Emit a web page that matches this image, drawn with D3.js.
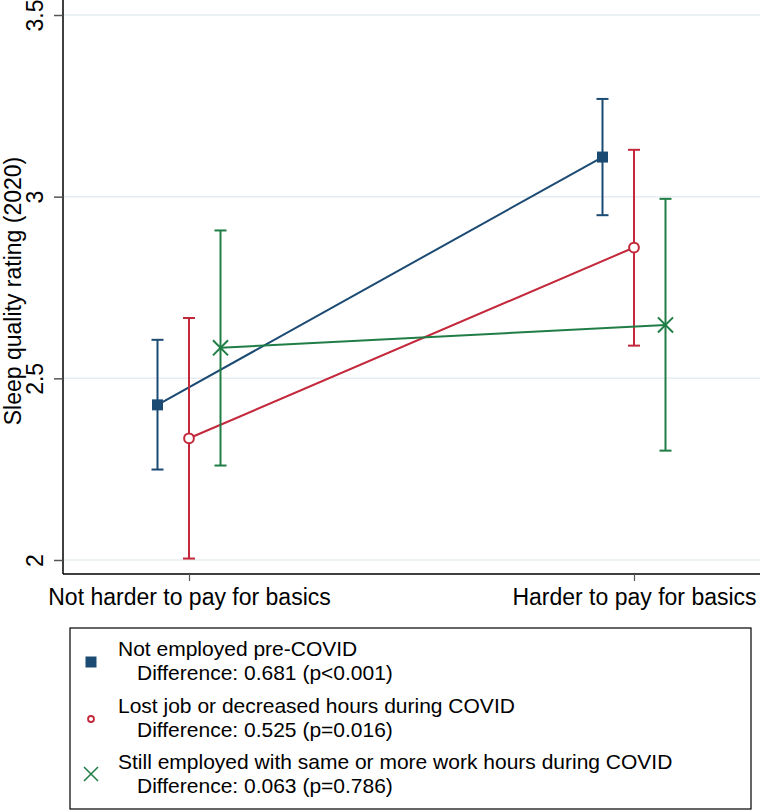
<!DOCTYPE html>
<html>
<head>
<meta charset="utf-8">
<script src="https://cdn.jsdelivr.net/npm/d3@7"></script>
<style>
  body { margin: 0; background: #fff; }
  svg { display: block; font-family: "Liberation Sans", Arial, sans-serif; }
</style>
</head>
<body>
<svg id="chart" width="760" height="811"></svg>
<script>
const categories = ['Not harder to pay for basics', 'Harder to pay for basics'];
const seriesNames = [
  'Not employed pre-COVID',
  'Lost job or decreased hours during COVID',
  'Still employed with same or more work hours during COVID'
];
const differences = [
  'Difference: 0.681 (p<0.001)',
  'Difference: 0.525 (p=0.016)',
  'Difference: 0.063 (p=0.786)'
];
// mean, lower CI, upper CI per category
const notEmployed = [[2.427, 2.249, 2.606], [3.109, 2.949, 3.269]];
const lostJob = [[2.335, 2.004, 2.666], [2.860, 2.590, 3.129]];
const stillEmployed = [[2.584, 2.260, 2.907], [2.647, 2.301, 2.994]];
const yTicks = [2, 2.5, 3, 3.5];

const colors = ['#1b4a73', '#c3283b', '#1f7d45'];
const seriesData = [notEmployed, lostJob, stillEmployed];

const svg = d3.select('#chart');
const width = 760;

const y = d3.scaleLinear().domain([2, 3.5]).range([560, 15]);
const x = d3.scalePoint().domain(categories).range([189, 634]);
const dodge = d3.scalePoint().domain(seriesNames).range([-31.5, 31.5]);

// gridlines
svg.append('g')
  .selectAll('line')
  .data(yTicks)
  .join('line')
    .attr('x1', 63).attr('x2', width)
    .attr('y1', d => y(d)).attr('y2', d => y(d))
    .attr('stroke', '#e6ecf0')
    .attr('stroke-width', 1.5);

// y axis
const yAxis = svg.append('g')
  .attr('transform', 'translate(63,0)')
  .call(d3.axisLeft(y).tickValues(yTicks).tickFormat(d3.format('')).tickSize(9).tickSizeOuter(0));
yAxis.select('.domain').attr('d', 'M0,0V574').attr('stroke', '#000').attr('stroke-width', 1.5);
yAxis.selectAll('.tick line').attr('stroke', '#555').attr('stroke-width', 1.5);
yAxis.selectAll('.tick text')
  .attr('font-size', 23)
  .attr('fill', '#000')
  .attr('x', 0).attr('dy', 0)
  .attr('text-anchor', 'middle')
  .attr('transform', 'translate(-20,0) rotate(-90)');

// x axis
const xAxis = svg.append('g')
  .attr('transform', 'translate(0,574)')
  .call(d3.axisBottom(x).tickSize(7).tickSizeOuter(0));
xAxis.select('.domain').attr('d', `M63,0H${width}`).attr('stroke', '#000').attr('stroke-width', 1.5);
xAxis.selectAll('.tick line').attr('stroke', '#555').attr('stroke-width', 1.2);
xAxis.selectAll('.tick text').attr('font-size', 23).attr('fill', '#000').attr('y', 15).attr('dy', '0.71em');

// y title
svg.append('text')
  .attr('transform', 'translate(21,291) rotate(-90)')
  .attr('text-anchor', 'middle')
  .attr('font-size', 23)
  .text('Sleep quality rating (2020)');

const markerSyms = [
  d3.symbol(d3.symbolSquare, 121)(),
  d3.symbol(d3.symbolCircle, 75)(),
  d3.symbol(d3.symbolTimes, 150)()
];

seriesData.forEach((data, i) => {
  const g = svg.append('g');
  const col = colors[i];
  const px = (d, j) => x(categories[j]) + dodge(seriesNames[i]);

  // error bars
  const eb = g.selectAll('g.eb').data(data).join('g').attr('class', 'eb');
  eb.append('line')
    .attr('x1', px).attr('x2', px)
    .attr('y1', d => y(d[1])).attr('y2', d => y(d[2]))
    .attr('stroke', col).attr('stroke-width', 2);
  eb.append('line')
    .attr('x1', (d, j) => px(d, j) - 6).attr('x2', (d, j) => px(d, j) + 6)
    .attr('y1', d => y(d[1])).attr('y2', d => y(d[1]))
    .attr('stroke', col).attr('stroke-width', 2);
  eb.append('line')
    .attr('x1', (d, j) => px(d, j) - 6).attr('x2', (d, j) => px(d, j) + 6)
    .attr('y1', d => y(d[2])).attr('y2', d => y(d[2]))
    .attr('stroke', col).attr('stroke-width', 2);

  // connecting line
  g.append('path')
    .datum(data)
    .attr('d', d3.line().x(px).y(d => y(d[0])))
    .attr('fill', 'none')
    .attr('stroke', col)
    .attr('stroke-width', 2);

  // markers
  g.selectAll('path.m').data(data).join('path')
    .attr('class', 'm')
    .attr('transform', (d, j) => `translate(${px(d, j)},${y(d[0])})`)
    .attr('d', markerSyms[i])
    .attr('fill', i === 1 ? '#fff' : col)
    .attr('stroke', col)
    .attr('stroke-width', i === 0 ? 0 : 2);
});

// legend
const legend = svg.append('g');
legend.append('rect')
  .attr('x', 70).attr('y', 628)
  .attr('width', 681).attr('height', 181)
  .attr('fill', '#fff').attr('stroke', '#000').attr('stroke-width', 1.2);

const rowBase = [656, 713, 769];
const markerY = [662, 719, 774];
const legendSyms = [
  d3.symbol(d3.symbolSquare, 121)(),
  d3.symbol(d3.symbolCircle, 28)(),
  d3.symbol(d3.symbolTimes, 130)()
];
seriesNames.forEach((name, i) => {
  legend.append('path')
    .attr('transform', `translate(91,${markerY[i]})`)
    .attr('d', legendSyms[i])
    .attr('fill', i === 1 ? '#fff' : colors[i])
    .attr('stroke', colors[i])
    .attr('stroke-width', i === 0 ? 0 : (i === 1 ? 1.8 : 1.5));
  legend.append('text')
    .attr('x', 118).attr('y', rowBase[i])
    .attr('font-size', 21)
    .text(name);
  legend.append('text')
    .attr('x', 137).attr('y', rowBase[i] + 24)
    .attr('font-size', 21)
    .text(differences[i]);
});
</script>
</body>
</html>
